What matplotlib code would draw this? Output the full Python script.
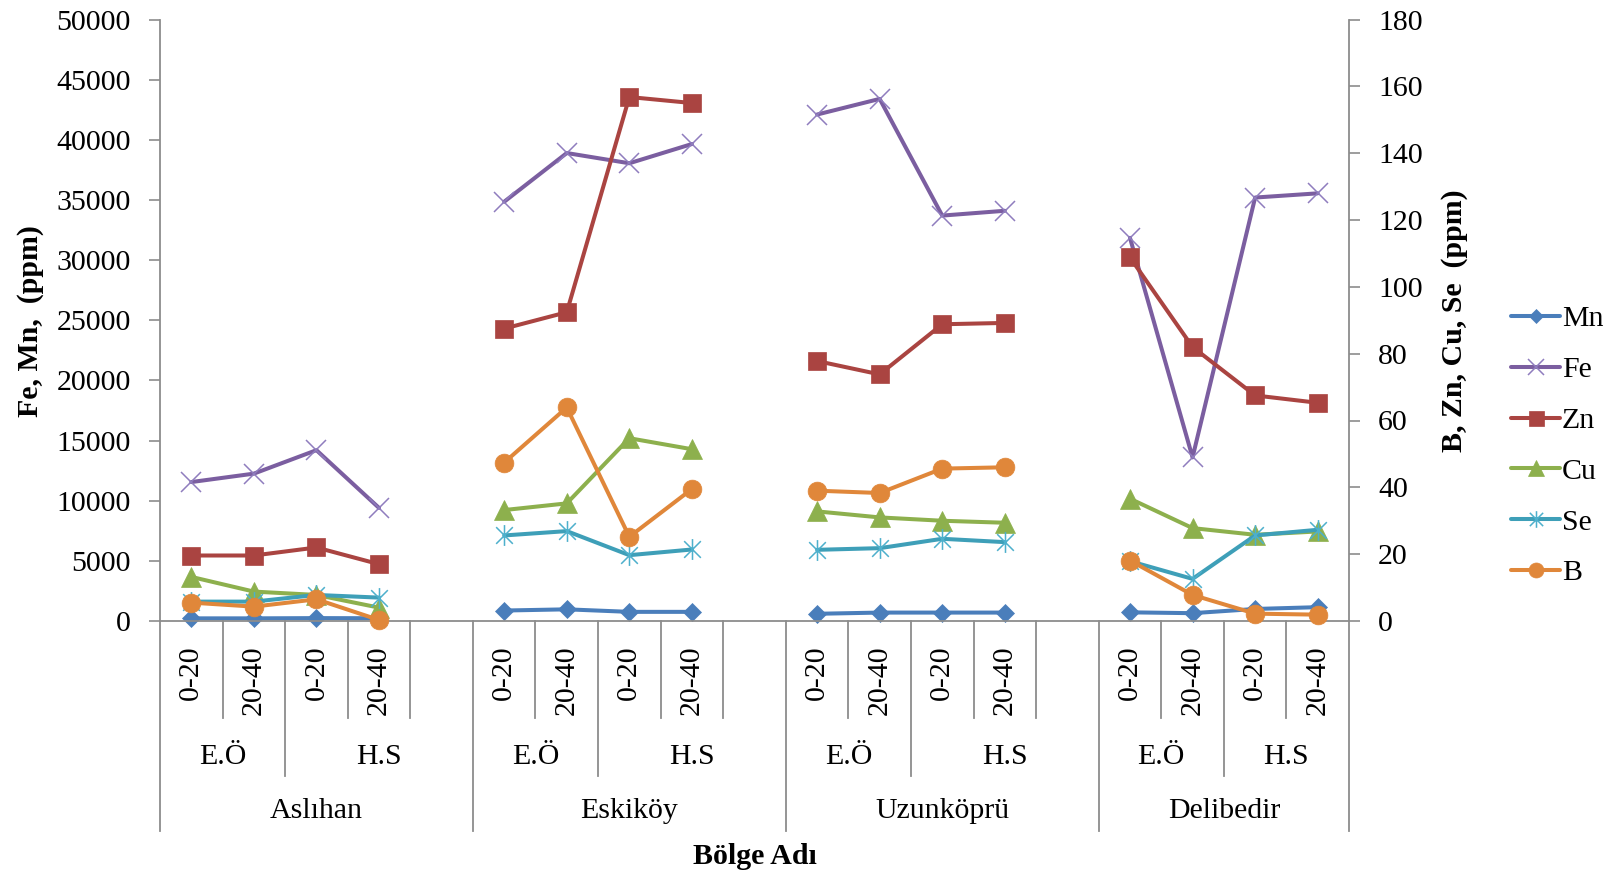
import numpy as np
import matplotlib
matplotlib.use("Agg")
import matplotlib.pyplot as plt
from matplotlib.path import Path
from matplotlib.transforms import blended_transform_factory
from matplotlib.lines import Line2D

# ---------------- data ----------------
regions = ['Aslıhan', 'Eskiköy', 'Uzunköprü', 'Delibedir']
methods = ['E.Ö', 'H.S']
depths = ['0-20', '20-40']

# values ordered region -> method -> depth (16 values)
Mn = [220, 220, 240, 230, 870, 970, 760, 760, 600, 700, 700, 700, 720, 650, 1000, 1150]
Fe = [11550, 12250, 14200, 9400, 34850, 38900, 38050, 39650,
      42100, 43400, 33700, 34100, 31850, 13600, 35200, 35550]
Zn = [19.6, 19.6, 22.0, 17.0, 87.5, 92.4, 156.8, 155.0,
      77.8, 73.8, 88.8, 89.2, 108.8, 82.0, 67.5, 65.3]
Cu = [13.2, 8.8, 7.8, 4.0, 33.2, 35.2, 54.7, 51.4,
      32.8, 31.0, 30.0, 29.4, 36.6, 27.8, 25.8, 26.8]
Se = [5.8, 5.8, 7.8, 7.0, 25.6, 26.9, 19.7, 21.4,
      21.3, 21.8, 24.6, 23.6, 17.9, 12.6, 25.6, 27.3]
B = [5.5, 4.3, 6.5, 0.3, 47.4, 63.9, 25.2, 39.5,
     39.0, 38.3, 45.6, 46.0, 18.1, 7.8, 2.2, 1.9]

left_ticks = list(range(0, 50001, 5000))
right_ticks = list(range(0, 181, 20))

# ---------------- layout helpers ----------------
W, H = 1623, 876
plt.rcParams['font.family'] = ['Liberation Serif', 'DejaVu Serif']
FS = 21.5
GRAY = '#8c8c8c'

slots_per_region = len(methods) * len(depths) + 1  # blank slot between regions
n_slots = slots_per_region * len(regions) - 1


def to_slots(vals):
    arr = np.full(n_slots, np.nan)
    k = 0
    for r in range(len(regions)):
        for m in range(len(methods)):
            for d in range(len(depths)):
                arr[r * slots_per_region + m * len(depths) + d] = vals[k]
                k += 1
    return arr


x = np.arange(n_slots)

fig = plt.figure(figsize=(W / 100, H / 100), dpi=100)
ax = fig.add_axes([160 / W, 1 - 621 / H, 1189 / W, 601.5 / H])
ax2 = ax.twinx()


def fy(px):
    return 1 - px / H


star = Path([(-1, -1), (1, 1), (-1, 1), (1, -1), (0, -1.25), (0, 1.25)],
            [Path.MOVETO, Path.LINETO, Path.MOVETO, Path.LINETO, Path.MOVETO, Path.LINETO])

LW = 2.9
series = [
    ('Mn', Mn, ax, '#4A7EBB', dict(marker='D', markersize=9.5, markeredgewidth=0.5)),
    ('Fe', Fe, ax, '#7B5EA0', dict(marker='x', markersize=15, markeredgewidth=1.1,
                                   markeredgecolor='#8F7DBE')),
    ('Zn', Zn, ax2, '#AA4441', dict(marker='s', markersize=13.5, markeredgewidth=0.5)),
    ('Cu', Cu, ax2, '#8DB04D', dict(marker='^', markersize=14, markeredgewidth=0.5)),
    ('Se', Se, ax2, '#3E9FB8', dict(marker=star, markersize=15, markeredgewidth=1.1,
                                    markerfacecolor='none', markeredgecolor='#4DB0CC')),
    ('B', B, ax2, '#E0873A', dict(marker='o', markersize=13.5, markeredgewidth=0.5)),
]

handles = []
for name, vals, a, col, kw in series:
    kw = dict(kw)
    kw.setdefault('markerfacecolor', col)
    kw.setdefault('markeredgecolor', col)
    ln, = a.plot(x, to_slots(vals), color=col, lw=LW, label=name,
                 solid_joinstyle='round', solid_capstyle='round', clip_on=False, **kw)
    handles.append(ln)

# axes limits & ticks
ax.set_xlim(-0.5, n_slots - 0.5)
ax.set_ylim(0, 50000)
ax2.set_ylim(0, 180)
ax.set_yticks(left_ticks)
ax.set_yticklabels([str(t) for t in left_ticks])
ax2.set_yticks(right_ticks)
ax2.set_yticklabels([str(t) for t in right_ticks])
ax.set_xticks([])
ax.tick_params(axis='y', direction='out', length=8, width=1.2, color=GRAY,
               labelsize=FS, pad=13)
ax2.tick_params(axis='y', direction='out', length=8, width=1.2, color=GRAY,
                labelsize=FS, pad=13)

for s in ['top', 'right']:
    ax.spines[s].set_visible(False)
for s in ['top', 'left', 'bottom']:
    ax2.spines[s].set_visible(False)
ax.spines['left'].set_color(GRAY)
ax.spines['bottom'].set_color(GRAY)
ax2.spines['right'].set_color(GRAY)
for sp in [ax.spines['left'], ax.spines['bottom'], ax2.spines['right']]:
    sp.set_linewidth(1.3)

# ---------------- multi-level category axis ----------------
trans = blended_transform_factory(ax.transData, fig.transFigure)
y_axis = fy(621)
y_depth = fy(718)
y_meth = fy(776)
y_reg = fy(831)


def vline(xv, y_end):
    ax.add_line(Line2D([xv, xv], [y_axis, y_end], transform=trans, color=GRAY,
                       lw=1.3, clip_on=False))


for r, reg in enumerate(regions):
    base = r * slots_per_region
    reg_start = base - 0.5
    reg_end = min(base + slots_per_region - 0.5, n_slots - 0.5)
    vline(reg_start, y_reg)
    ax.text((reg_start + reg_end) / 2, fy(811), reg, transform=trans, ha='center',
            va='center', fontsize=FS)
    for m, meth in enumerate(methods):
        m_start = base + m * len(depths) - 0.5
        m_end = m_start + len(depths) if m < len(methods) - 1 else reg_end
        if m > 0:
            vline(m_start, y_meth)
        ax.text((m_start + m_end) / 2, fy(757), meth, transform=trans, ha='center',
                va='center', fontsize=FS)
        for d, dep in enumerate(depths):
            xi = base + m * len(depths) + d
            ax.text(xi, fy(645), dep, transform=trans, rotation=90, ha='center',
                    va='top', fontsize=FS)
            if d > 0:
                vline(xi - 0.5, y_depth)
    # boundary between last data slot and blank slot
    if reg_end > base + len(methods) * len(depths) - 0.5:
        vline(base + len(methods) * len(depths) - 0.5, y_depth)
vline(n_slots - 0.5, y_reg)

# ---------------- titles ----------------
fig.text(754.5 / W, fy(856), 'Bölge Adı', ha='center', va='center',
         fontsize=FS, fontweight='bold')
fig.text(31 / W, fy(321), 'Fe, Mn,  (ppm)', rotation=90, ha='center', va='center',
         fontsize=FS, fontweight='bold')
fig.text(1454 / W, fy(321), 'B, Zn, Cu, Se  (ppm)', rotation=90, ha='center',
         va='center', fontsize=FS, fontweight='bold')

# ---------------- legend ----------------
fig.legend(handles=handles, loc='center left', bbox_to_anchor=(1511 / W, fy(446)),
           frameon=False, fontsize=FS, handlelength=1.65, handletextpad=0.05,
           labelspacing=0.8, borderpad=0, borderaxespad=0, markerscale=0.8)

fig.savefig('out.png', dpi=100)
